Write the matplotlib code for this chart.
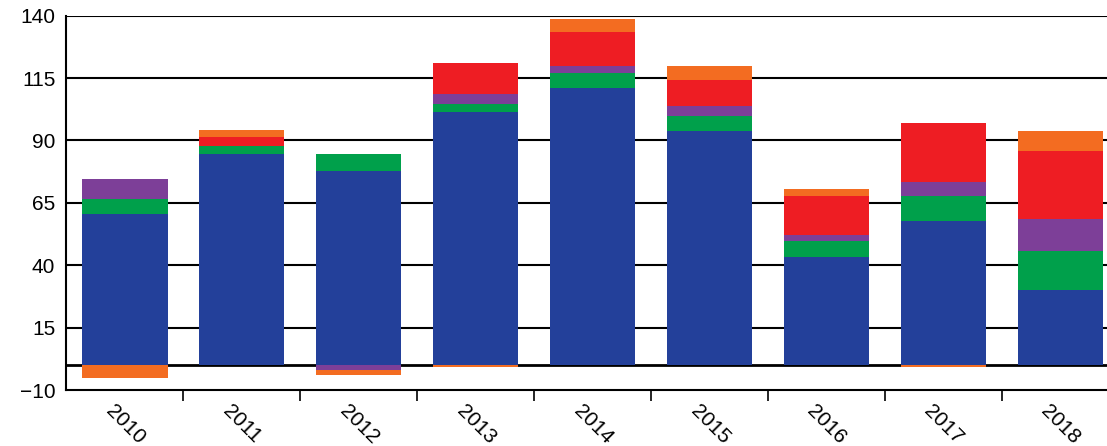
import numpy as np
import matplotlib.pyplot as plt

years = ['2010', '2011', '2012', '2013', '2014', '2015', '2016', '2017', '2018']
# positive stack segments
blue = [60.4, 84.4, 77.6, 101.6, 111.2, 93.6, 43.2, 57.6, 30.0]
green = [6.0, 3.2, 6.8, 3.2, 6.0, 6.4, 6.4, 10.0, 15.6]
purple = [8.0, 0, 0, 4.0, 2.8, 4.0, 2.4, 5.6, 12.8]
red = [0, 3.6, 0, 12.4, 13.6, 10.4, 15.6, 24.0, 27.2]
orange = [0, 2.8, 0, 0, 5.2, 5.6, 2.8, 0, 8.0]
# negative segments
purple_neg = [0, 0, -2.0, 0, 0, 0, 0, 0, 0]
orange_neg = [-5.0, 0, -1.8, -0.8, 0, 0, 0, -0.6, 0]

colors = {'blue': '#23409A', 'green': '#00A04B', 'purple': '#7D3F98',
          'red': '#EE1D23', 'orange': '#F36C21'}

plt.rcParams['font.family'] = ['Liberation Sans', 'DejaVu Sans']
fig, ax = plt.subplots(figsize=(11.07, 4.46), dpi=100)
fig.subplots_adjust(left=0.06, right=1.0, top=0.965, bottom=0.125)

x = np.arange(len(years))
w = 0.73
bottom = np.zeros(len(years))
for vals, c in [(blue, 'blue'), (green, 'green'), (purple, 'purple'), (red, 'red'), (orange, 'orange')]:
    v = np.array(vals)
    ax.bar(x, v, w, bottom=bottom, color=colors[c], zorder=3)
    bottom += v
nb = np.zeros(len(years))
for vals, c in [(purple_neg, 'purple'), (orange_neg, 'orange')]:
    v = np.array(vals)
    ax.bar(x, v, w, bottom=nb, color=colors[c], zorder=3)
    nb += v

ax.set_ylim(-10, 140)
ax.set_xlim(-0.5, len(years) - 0.6)
ax.set_yticks([-10, 15, 40, 65, 90, 115, 140])
for t in [15, 40, 65, 90, 115, 140]:
    ax.axhline(t, color='black', lw=1.5, zorder=1)
ax.axhline(0, color='black', lw=2, zorder=2)
ax.set_xticks(np.arange(1, len(years)) - 0.5, minor=False)
ax.set_xticklabels([])
ax.set_xticks(x - 0.08, minor=True)
ax.set_xticklabels(years, minor=True, rotation=-45, ha='left', va='top',
                   rotation_mode='anchor', fontsize=15)
ax.tick_params(axis='x', which='minor', length=0, pad=8)
ax.tick_params(axis='x', which='major', length=8, width=1.2, direction='out')
ax.tick_params(axis='y', length=0, labelsize=15, pad=8)
for s in ['top', 'right']:
    ax.spines[s].set_visible(False)
ax.spines['left'].set_linewidth(1.5)
ax.spines['bottom'].set_linewidth(1.5)

plt.savefig('out.png')
